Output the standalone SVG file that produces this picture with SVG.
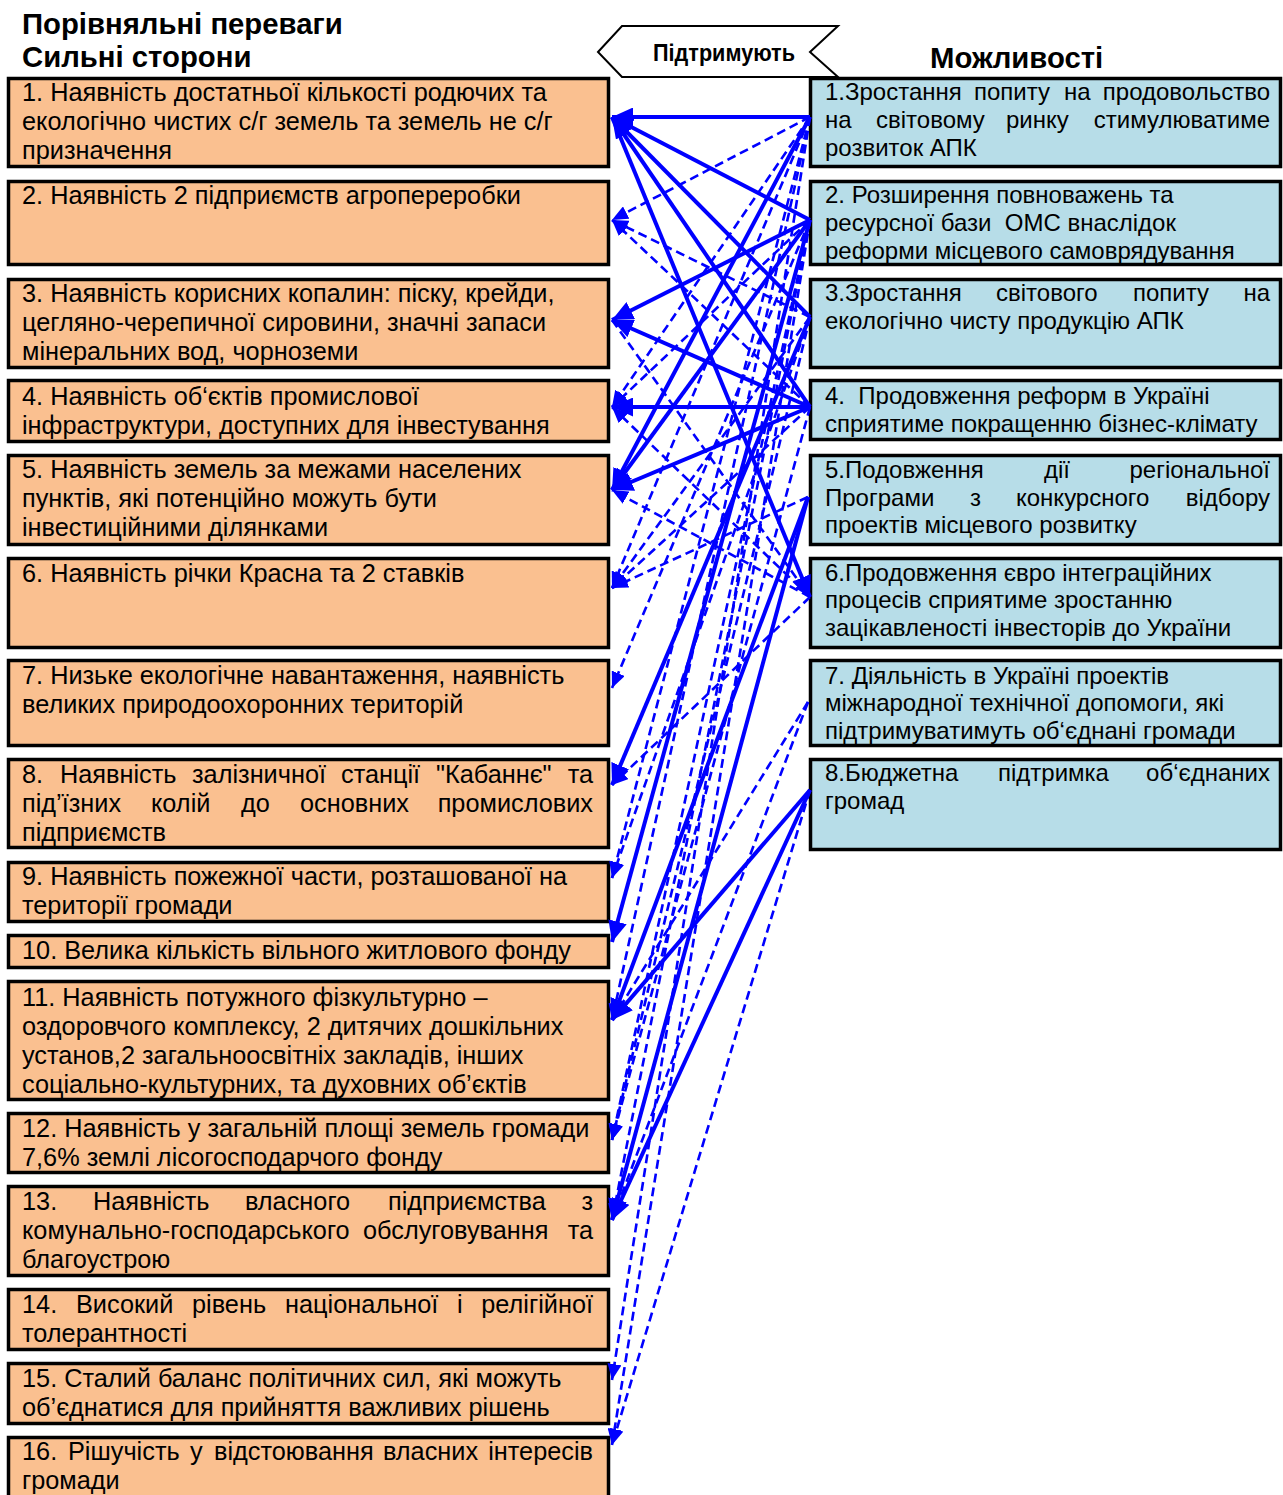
<svg xmlns="http://www.w3.org/2000/svg" width="1283" height="1495" viewBox="0 0 1283 1495">
<style>
.ls{fill:#FAC090;stroke:#000;stroke-width:3.5}
.rs{fill:#B7DDE8;stroke:#000;stroke-width:3.5}
.t{font-family:"Liberation Sans",Arial,sans-serif;font-size:24px;fill:#000}
.tl{font-family:"Liberation Sans",Arial,sans-serif;font-size:25.3px;fill:#000}
.h{font-family:"Liberation Sans",Arial,sans-serif;font-size:29.3px;font-weight:bold;fill:#000}
.e{text-anchor:end}
.s{stroke:#0000FF;stroke-width:4;fill:none}
.d{stroke:#0000FF;stroke-width:2.6;stroke-dasharray:9 5;fill:none}
</style>
<defs>
<marker id="aS" markerUnits="userSpaceOnUse" markerWidth="23" markerHeight="19" refX="21" refY="9.5" orient="auto"><path d="M0,0 L21,9.5 L0,19 z" fill="#0000FF"/></marker>
<marker id="aD" markerUnits="userSpaceOnUse" markerWidth="17" markerHeight="14" refX="16" refY="7" orient="auto"><path d="M0,0 L16,7 L0,14 z" fill="#0000FF"/></marker>
</defs>
<rect width="1283" height="1495" fill="#fff"/>
<g id="titles">
<text class="h" x="22" y="34">Порівняльні переваги</text>
<text class="h" x="22" y="67">Сильні сторони</text>
<text class="h" x="930" y="68">Можливості</text>
</g>
<g id="support">
<polygon points="598,52 622,26 838,26 810,52 838,77 622,77" fill="#fff" stroke="#000" stroke-width="2"/>
<text x="724" y="61" text-anchor="middle" font-family="'Liberation Sans',Arial,sans-serif" font-size="23" font-weight="bold" textLength="142" lengthAdjust="spacingAndGlyphs">Підтримують</text>
</g>
<g id="s1"><rect class="ls" x="8.5" y="78.5" width="600" height="88"/>
<text class="tl" x="22" y="101">1. Наявність достатньої кількості родючих та</text>
<text class="tl" x="22" y="130">екологічно чистих с/г земель та земель не с/г</text>
<text class="tl" x="22" y="159">призначення</text></g>
<g id="s2"><rect class="ls" x="8.5" y="181.5" width="600" height="83"/>
<text class="tl" x="22" y="204">2. Наявність 2 підприємств агропереробки</text></g>
<g id="s3"><rect class="ls" x="8.5" y="279.5" width="600" height="88"/>
<text class="tl" x="22" y="302">3. Наявність корисних копалин: піску, крейди,</text>
<text class="tl" x="22" y="331">цегляно-черепичної сировини, значні запаси</text>
<text class="tl" x="22" y="360">мінеральних вод, чорноземи</text></g>
<g id="s4"><rect class="ls" x="8.5" y="380.5" width="600" height="61"/>
<text class="tl" x="22" y="405">4. Наявність об‘єктів промислової</text>
<text class="tl" x="22" y="434">інфраструктури, доступних для інвестування</text></g>
<g id="s5"><rect class="ls" x="8.5" y="455.5" width="600" height="89"/>
<text class="tl" x="22" y="478">5. Наявність земель за межами населених</text>
<text class="tl" x="22" y="507">пунктів, які потенційно можуть бути</text>
<text class="tl" x="22" y="536">інвестиційними ділянками</text></g>
<g id="s6"><rect class="ls" x="8.5" y="558.5" width="600" height="89"/>
<text class="tl" x="22" y="582">6. Наявність річки Красна та 2 ставків</text></g>
<g id="s7"><rect class="ls" x="8.5" y="660.5" width="600" height="85"/>
<text class="tl" x="22" y="684">7. Низьке екологічне навантаження, наявність</text>
<text class="tl" x="22" y="713">великих природоохоронних територій</text></g>
<g id="s8"><rect class="ls" x="8.5" y="759.5" width="600" height="88"/>
<text class="tl" y="783"><tspan x="22">8.</tspan><tspan x="60">Наявність</tspan><tspan x="192">залізничної</tspan><tspan x="341">станції</tspan><tspan x="436">"Кабаннє"</tspan></text>
<text class="tl e" x="593" y="783">та</text>
<text class="tl" y="812"><tspan x="22">під’їзних</tspan><tspan x="151">колій</tspan><tspan x="241">до</tspan><tspan x="300">основних</tspan></text>
<text class="tl e" x="593" y="812">промислових</text>
<text class="tl" x="22" y="841">підприємств</text></g>
<g id="s9"><rect class="ls" x="8.5" y="862.5" width="600" height="59"/>
<text class="tl" x="22" y="885">9. Наявність пожежної части, розташованої на</text>
<text class="tl" x="22" y="914">території громади</text></g>
<g id="s10"><rect class="ls" x="8.5" y="935.5" width="600" height="32"/>
<text class="tl" x="22" y="959">10. Велика кількість вільного житлового фонду</text></g>
<g id="s11"><rect class="ls" x="8.5" y="981.5" width="600" height="118"/>
<text class="tl" x="22" y="1006">11. Наявність потужного фізкультурно –</text>
<text class="tl" x="22" y="1035">оздоровчого комплексу, 2 дитячих дошкільних</text>
<text class="tl" x="22" y="1064">установ,2 загальноосвітніх закладів, інших</text>
<text class="tl" x="22" y="1093">соціально-культурних, та духовних об’єктів</text></g>
<g id="s12"><rect class="ls" x="8.5" y="1113.5" width="600" height="59"/>
<text class="tl" x="22" y="1137">12. Наявність у загальній площі земель громади</text>
<text class="tl" x="22" y="1166">7,6% землі лісогосподарчого фонду</text></g>
<g id="s13"><rect class="ls" x="8.5" y="1186.5" width="600" height="89"/>
<text class="tl" y="1210"><tspan x="22">13.</tspan><tspan x="93">Наявність</tspan><tspan x="245">власного</tspan><tspan x="388">підприємства</tspan></text>
<text class="tl e" x="593" y="1210">з</text>
<text class="tl" y="1239"><tspan x="22">комунально-господарського</tspan><tspan x="363">обслуговування</tspan></text>
<text class="tl e" x="593" y="1239">та</text>
<text class="tl" x="22" y="1268">благоустрою</text></g>
<g id="s14"><rect class="ls" x="8.5" y="1289.5" width="600" height="60"/>
<text class="tl" y="1313"><tspan x="22">14.</tspan><tspan x="76">Високий</tspan><tspan x="192">рівень</tspan><tspan x="285">національної</tspan><tspan x="457">і</tspan></text>
<text class="tl e" x="593" y="1313">релігійної</text>
<text class="tl" x="22" y="1342">толерантності</text></g>
<g id="s15"><rect class="ls" x="8.5" y="1363.5" width="600" height="60"/>
<text class="tl" x="22" y="1387">15. Сталий баланс політичних сил, які можуть</text>
<text class="tl" x="22" y="1416">об’єднатися для прийняття важливих рішень</text></g>
<g id="s16"><rect class="ls" x="8.5" y="1437.5" width="600" height="70"/>
<text class="tl" y="1460"><tspan x="22">16.</tspan><tspan x="68">Рішучість</tspan><tspan x="190">у</tspan><tspan x="214">відстоювання</tspan><tspan x="383">власних</tspan></text>
<text class="tl e" x="593" y="1460">інтересів</text>
<text class="tl" x="22" y="1489">громади</text></g>
<g id="o1"><rect class="rs" x="810.5" y="78.5" width="470" height="88"/>
<text class="t" y="100"><tspan x="825">1.Зростання</tspan><tspan x="974">попиту</tspan><tspan x="1064">на</tspan></text>
<text class="t e" x="1270" y="100">продовольство</text>
<text class="t" y="128"><tspan x="825">на</tspan><tspan x="876">світовому</tspan><tspan x="1006">ринку</tspan></text>
<text class="t e" x="1270" y="128">стимулюватиме</text>
<text class="t" x="825" y="156">розвиток АПК</text></g>
<g id="o2"><rect class="rs" x="810.5" y="181.5" width="470" height="83"/>
<text class="t" x="825" y="203">2. Розширення повноважень та</text>
<text class="t" x="825" y="231" xml:space="preserve">ресурсної бази  ОМС внаслідок</text>
<text class="t" x="825" y="259">реформи місцевого самоврядування</text></g>
<g id="o3"><rect class="rs" x="810.5" y="279.5" width="470" height="88"/>
<text class="t" y="301"><tspan x="825">3.Зростання</tspan><tspan x="996">світового</tspan><tspan x="1133">попиту</tspan></text>
<text class="t e" x="1270" y="301">на</text>
<text class="t" x="825" y="329">екологічно чисту продукцію АПК</text></g>
<g id="o4"><rect class="rs" x="810.5" y="380.5" width="470" height="59"/>
<text class="t" x="825" y="404" xml:space="preserve">4.  Продовження реформ в Україні</text>
<text class="t" x="825" y="432">сприятиме покращенню бізнес-клімату</text></g>
<g id="o5"><rect class="rs" x="810.5" y="455.5" width="470" height="89"/>
<text class="t" y="478"><tspan x="825">5.Подовження</tspan><tspan x="1044">дії</tspan></text>
<text class="t e" x="1270" y="478">регіональної</text>
<text class="t" y="506"><tspan x="825">Програми</tspan><tspan x="970">з</tspan><tspan x="1016">конкурсного</tspan></text>
<text class="t e" x="1270" y="506">відбору</text>
<text class="t" x="825" y="533">проектів місцевого розвитку</text></g>
<g id="o6"><rect class="rs" x="810.5" y="558.5" width="470" height="89"/>
<text class="t" x="825" y="581">6.Продовження євро інтеграційних</text>
<text class="t" x="825" y="608">процесів сприятиме зростанню</text>
<text class="t" x="825" y="636">зацікавленості інвесторів до України</text></g>
<g id="o7"><rect class="rs" x="810.5" y="660.5" width="470" height="85"/>
<text class="t" x="825" y="684">7. Діяльність в Україні проектів</text>
<text class="t" x="825" y="711">міжнародної технічної допомоги, які</text>
<text class="t" x="825" y="739">підтримуватимуть об‘єднані громади</text></g>
<g id="o8"><rect class="rs" x="810.5" y="759.5" width="470" height="90"/>
<text class="t" y="781"><tspan x="825">8.Бюджетна</tspan><tspan x="998">підтримка</tspan></text>
<text class="t e" x="1270" y="781">об‘єднаних</text>
<text class="t" x="825" y="809">громад</text></g>
<g id="connectors">
<line class="s" x1="810" y1="117" x2="612" y2="117" marker-end="url(#aS)"/>
<line class="s" x1="810" y1="117" x2="612" y2="490" marker-end="url(#aS)"/>
<line class="s" x1="810" y1="220" x2="612" y2="117" marker-end="url(#aS)"/>
<line class="s" x1="810" y1="317" x2="612" y2="117" marker-end="url(#aS)"/>
<line class="s" x1="810" y1="407" x2="612" y2="117" marker-end="url(#aS)"/>
<line class="s" x1="612" y1="117" x2="810" y2="597" marker-end="url(#aS)"/>
<line class="s" x1="810" y1="220" x2="612" y2="320" marker-end="url(#aS)"/>
<line class="s" x1="810" y1="220" x2="612" y2="490" marker-end="url(#aS)"/>
<line class="s" x1="810" y1="220" x2="612" y2="942" marker-end="url(#aS)"/>
<line class="s" x1="810" y1="317" x2="612" y2="785" marker-end="url(#aS)"/>
<line class="s" x1="810" y1="407" x2="612" y2="320" marker-end="url(#aS)"/>
<line class="s" x1="810" y1="407" x2="612" y2="407" marker-end="url(#aS)"/>
<line class="s" x1="810" y1="407" x2="612" y2="490" marker-end="url(#aS)"/>
<line class="s" x1="808" y1="497" x2="612" y2="1020" marker-end="url(#aS)"/>
<line class="s" x1="808" y1="497" x2="612" y2="1220" marker-end="url(#aS)"/>
<line class="s" x1="810" y1="790" x2="612" y2="1020" marker-end="url(#aS)"/>
<line class="s" x1="810" y1="790" x2="612" y2="1220" marker-end="url(#aS)"/>
<line class="d" x1="810" y1="117" x2="612" y2="220" marker-end="url(#aD)"/>
<line class="d" x1="810" y1="117" x2="612" y2="407" marker-end="url(#aD)"/>
<line class="d" x1="810" y1="117" x2="612" y2="588" marker-end="url(#aD)"/>
<line class="d" x1="810" y1="117" x2="612" y2="878" marker-end="url(#aD)"/>
<line class="d" x1="810" y1="117" x2="612" y2="1020" marker-end="url(#aD)"/>
<line class="d" x1="810" y1="117" x2="612" y2="1380" marker-end="url(#aD)"/>
<line class="d" x1="810" y1="220" x2="612" y2="688" marker-end="url(#aD)"/>
<line class="d" x1="810" y1="220" x2="612" y2="1140" marker-end="url(#aD)"/>
<line class="d" x1="810" y1="220" x2="612" y2="1220" marker-end="url(#aD)"/>
<line class="d" x1="810" y1="220" x2="612" y2="1445" marker-end="url(#aD)"/>
<line class="d" x1="810" y1="220" x2="612" y2="407" marker-end="url(#aD)"/>
<line class="d" x1="810" y1="317" x2="612" y2="588" marker-end="url(#aD)"/>
<line class="d" x1="810" y1="317" x2="612" y2="1140" marker-end="url(#aD)"/>
<line class="d" x1="810" y1="317" x2="612" y2="878" marker-end="url(#aD)"/>
<line class="d" x1="810" y1="407" x2="612" y2="588" marker-end="url(#aD)"/>
<line class="d" x1="810" y1="407" x2="612" y2="1140" marker-end="url(#aD)"/>
<line class="d" x1="808" y1="497" x2="612" y2="588" marker-end="url(#aD)"/>
<line class="d" x1="810" y1="597" x2="612" y2="785" marker-end="url(#aD)"/>
<line class="d" x1="808" y1="702" x2="612" y2="1020" marker-end="url(#aD)"/>
<line class="d" x1="808" y1="702" x2="612" y2="1220" marker-end="url(#aD)"/>
<line class="d" x1="810" y1="790" x2="612" y2="1445" marker-end="url(#aD)"/>
<line class="d" x1="810" y1="317" x2="612" y2="220" marker-end="url(#aD)"/>
<line class="d" x1="810" y1="407" x2="612" y2="220" marker-end="url(#aD)"/>
<line class="d" x1="612" y1="320" x2="810" y2="597" marker-end="url(#aD)"/>
<line class="d" x1="810" y1="597" x2="612" y2="407" marker-end="url(#aD)"/>
<line class="d" x1="810" y1="597" x2="612" y2="490" marker-end="url(#aD)"/>
</g>
</svg>
